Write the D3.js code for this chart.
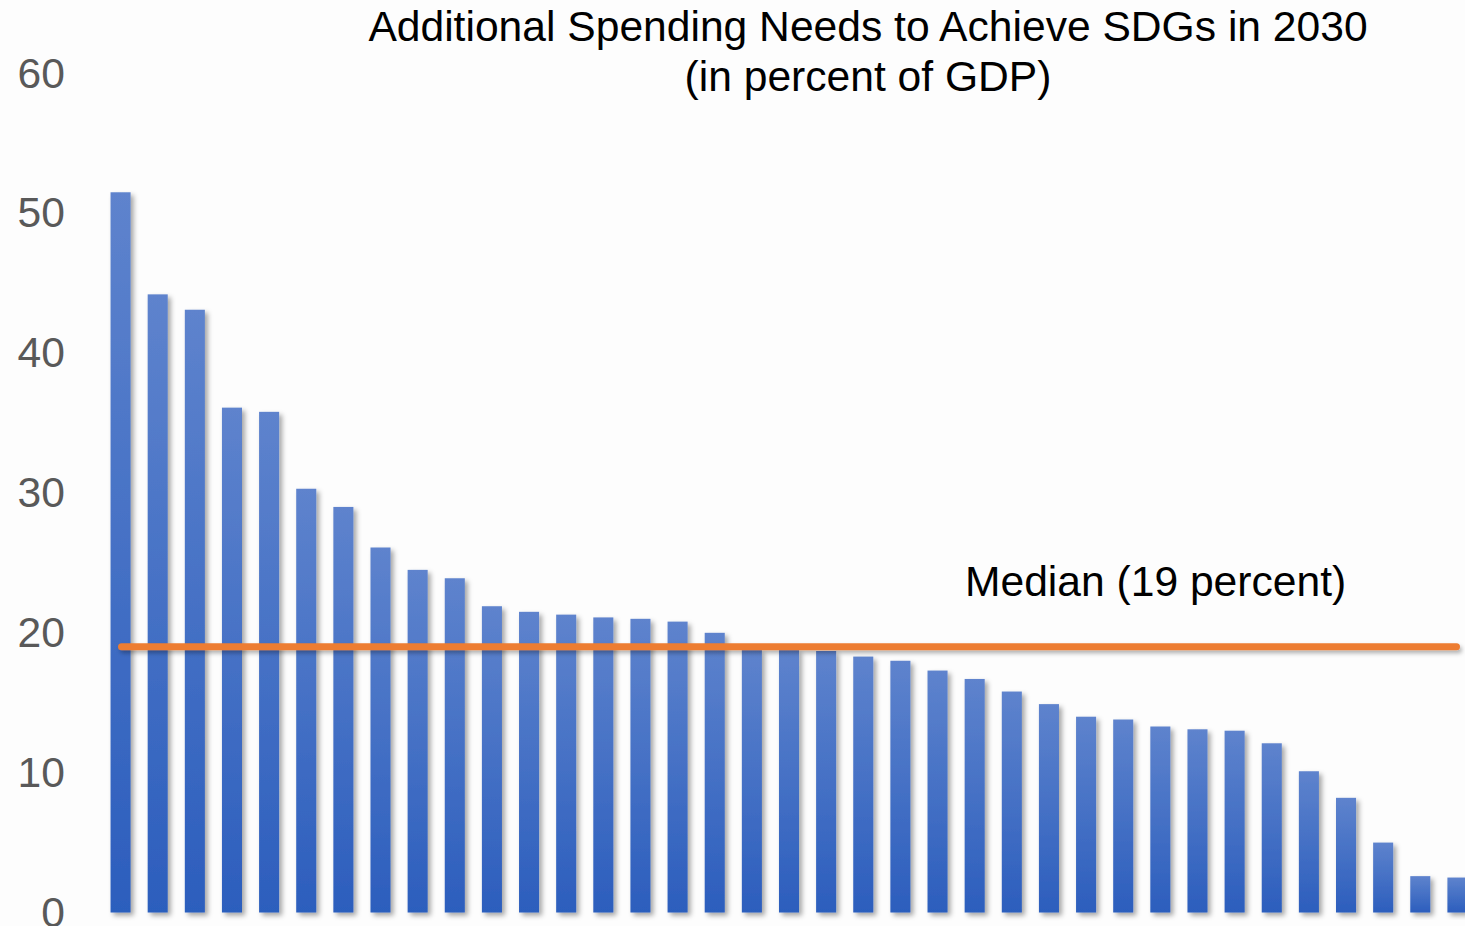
<!DOCTYPE html>
<html>
<head>
<meta charset="utf-8">
<script src="https://cdn.jsdelivr.net/npm/d3@7"></script>
<style>
  html, body { margin: 0; padding: 0; background: #fdfdfd; }
  svg { display: block; }
</style>
</head>
<body>
<svg id="chart" width="1465" height="926"></svg>
<script>
// Additional spending needs per country, ranked, in percent of GDP
const countries = d3.range(1, 38).map(i => "Country " + i);
const spending = [
  51.5, 44.2, 43.1, 36.1, 35.8, 30.3, 29.0, 26.1, 24.5, 23.9,
  21.9, 21.5, 21.3, 21.1, 21.0, 20.8, 20.0, 18.8, 18.8, 18.7,
  18.3, 18.0, 17.3, 16.7, 15.8, 14.9, 14.0, 13.8, 13.3, 13.1,
  13.0, 12.1, 10.1, 8.2, 5.0, 2.6, 2.5
];
const medianValue = 19;
const yTicks = [0, 10, 20, 30, 40, 50, 60];
const titleLines = ["Additional Spending Needs to Achieve SDGs in 2030", "(in percent of GDP)"];
const medianLabel = "Median (19 percent)";

const svg = d3.select("#chart");
const font = "'Liberation Sans', Arial, sans-serif";
const fontSize = 42.6;

const defs = svg.append("defs");
const grad = defs.append("linearGradient")
  .attr("id", "barGrad").attr("x1", 0).attr("y1", 0).attr("x2", 0).attr("y2", 1);
grad.append("stop").attr("offset", "0%").attr("stop-color", "#5e83cd");
grad.append("stop").attr("offset", "100%").attr("stop-color", "#2c5ebd");

const shadow = defs.append("filter").attr("id", "shadow")
  .attr("x", "-50%").attr("y", "-10%").attr("width", "200%").attr("height", "130%");
shadow.append("feDropShadow").attr("dx", 3).attr("dy", 3)
  .attr("stdDeviation", 2.5).attr("flood-color", "#000").attr("flood-opacity", 0.35);

// horizontal line has a zero-height bbox, so its filter region is in user space
const lineShadow = defs.append("filter").attr("id", "lineShadow")
  .attr("filterUnits", "userSpaceOnUse")
  .attr("x", 0).attr("y", 560).attr("width", 1465).attr("height", 160);
lineShadow.append("feDropShadow").attr("dx", 2).attr("dy", 3)
  .attr("stdDeviation", 2).attr("flood-color", "#000").attr("flood-opacity", 0.3);

const x = d3.scaleBand().domain(countries).range([102, 1476])
  .paddingInner(0.46).paddingOuter(0.23);
const y = d3.scaleLinear().domain([0, 60]).range([912.5, 73.4]);

// y axis labels
const yAxis = d3.axisLeft(y).tickValues(yTicks).tickSize(0).tickPadding(0);
const gy = svg.append("g").attr("transform", "translate(65,0)").call(yAxis);
gy.select(".domain").remove();
gy.selectAll("text")
  .attr("font-family", font).attr("font-size", fontSize).attr("fill", "#595959")
  .attr("dy", "0.32em");

// bars
svg.append("g").selectAll("rect")
  .data(spending)
  .join("rect")
  .attr("x", (d, i) => x(countries[i]))
  .attr("width", x.bandwidth())
  .attr("y", d => y(d))
  .attr("height", d => y(0) - y(d))
  .attr("fill", "url(#barGrad)")
  .attr("filter", "url(#shadow)");

// median line
svg.append("line")
  .attr("x1", 121.5).attr("x2", 1456.5)
  .attr("y1", y(medianValue)).attr("y2", y(medianValue))
  .attr("stroke", "#ed7d31").attr("stroke-width", 7)
  .attr("stroke-linecap", "round")
  .attr("filter", "url(#lineShadow)");

svg.append("text")
  .attr("x", 965).attr("y", 596)
  .attr("font-family", font).attr("font-size", fontSize).attr("fill", "#000")
  .text(medianLabel);

// title
svg.append("text")
  .attr("x", 868).attr("y", 41)
  .attr("text-anchor", "middle")
  .attr("font-family", font).attr("font-size", fontSize).attr("fill", "#000")
  .text(titleLines[0]);
svg.append("text")
  .attr("x", 868).attr("y", 91)
  .attr("text-anchor", "middle")
  .attr("font-family", font).attr("font-size", fontSize).attr("fill", "#000")
  .text(titleLines[1]);
</script>
</body>
</html>
